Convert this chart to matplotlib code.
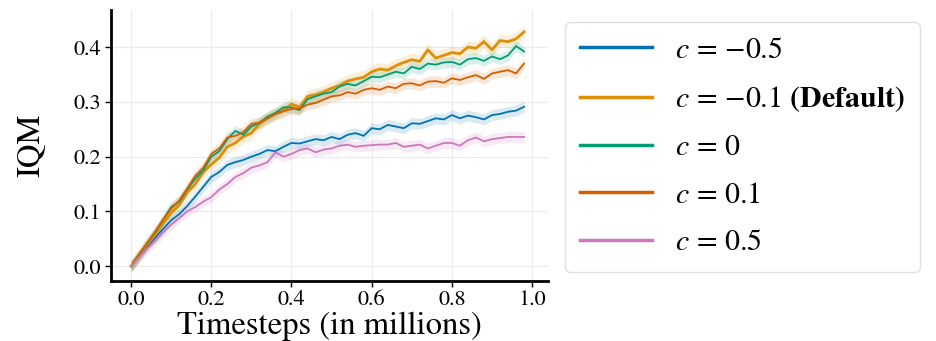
import numpy as np
import matplotlib.pyplot as plt

plt.rcParams['font.family'] = 'STIXGeneral'
plt.rcParams['mathtext.fontset'] = 'stix'

# timesteps (in millions)
steps = np.arange(50) * 0.02

iqm_m05 = [0.0, 0.018, 0.036, 0.052, 0.068, 0.084, 0.095, 0.11, 0.127, 0.145,
           0.163, 0.172, 0.185, 0.19, 0.194, 0.2, 0.205, 0.212, 0.21, 0.218,
           0.225, 0.224, 0.228, 0.232, 0.23, 0.236, 0.232, 0.24, 0.243, 0.238,
           0.252, 0.25, 0.258, 0.255, 0.252, 0.261, 0.26, 0.265, 0.27, 0.268,
           0.276, 0.27, 0.275, 0.272, 0.268, 0.276, 0.278, 0.282, 0.284, 0.291]
iqm_m01 = [0.0, 0.02, 0.04, 0.058, 0.078, 0.097, 0.112, 0.135, 0.15, 0.172,
           0.186, 0.198, 0.218, 0.225, 0.237, 0.243, 0.26, 0.27, 0.278, 0.284,
           0.296, 0.29, 0.31, 0.313, 0.318, 0.325, 0.33, 0.338, 0.342, 0.345,
           0.355, 0.36, 0.358, 0.366, 0.372, 0.377, 0.374, 0.395, 0.38, 0.385,
           0.39, 0.388, 0.4, 0.398, 0.41, 0.395, 0.412, 0.41, 0.415, 0.428]
iqm_0 = [0.0, 0.021, 0.042, 0.062, 0.085, 0.108, 0.118, 0.14, 0.16, 0.175,
         0.2, 0.21, 0.232, 0.247, 0.24, 0.255, 0.262, 0.273, 0.28, 0.29,
         0.29, 0.285, 0.305, 0.31, 0.315, 0.318, 0.328, 0.333, 0.33, 0.338,
         0.346, 0.345, 0.35, 0.355, 0.352, 0.364, 0.36, 0.37, 0.368, 0.372,
         0.373, 0.368, 0.378, 0.38, 0.375, 0.383, 0.378, 0.385, 0.402, 0.392]
iqm_01 = [0.0, 0.021, 0.042, 0.063, 0.085, 0.105, 0.12, 0.142, 0.165, 0.18,
          0.205, 0.215, 0.235, 0.238, 0.245, 0.26, 0.262, 0.27, 0.278, 0.283,
          0.287, 0.288, 0.295, 0.298, 0.304, 0.31, 0.312, 0.318, 0.315, 0.322,
          0.325, 0.322, 0.328, 0.325, 0.333, 0.334, 0.33, 0.337, 0.338, 0.335,
          0.343, 0.34, 0.345, 0.349, 0.342, 0.352, 0.355, 0.358, 0.352, 0.37]
iqm_05 = [0.0, 0.016, 0.032, 0.046, 0.062, 0.076, 0.088, 0.1, 0.108, 0.118,
          0.126, 0.14, 0.15, 0.163, 0.17, 0.18, 0.184, 0.19, 0.208, 0.2,
          0.205, 0.212, 0.215, 0.208, 0.213, 0.215, 0.22, 0.222, 0.218, 0.22,
          0.221, 0.222, 0.222, 0.225, 0.218, 0.22, 0.222, 0.215, 0.22, 0.225,
          0.225, 0.22, 0.23, 0.235, 0.228, 0.232, 0.234, 0.236, 0.236, 0.236]

# half-width of the confidence band for each run
band_m05, band_m01, band_0, band_01, band_05 = 0.010, 0.012, 0.010, 0.010, 0.010

labels = [r'$c\,=\,{-0.5}$', r'$c\,=\,{-0.1}$ $\mathbf{(Default)}$',
          r'$c\,=\,0$', r'$c\,=\,0.1$', r'$c\,=\,0.5$']
colors = ['#0173b2', '#de8f05', '#029e73', '#d55e00', '#cc78bc']

runs = [(iqm_m05, band_m05), (iqm_m01, band_m01), (iqm_0, band_0),
        (iqm_01, band_01), (iqm_05, band_05)]

fig = plt.figure(figsize=(9.37, 3.41), dpi=100)
ax = fig.add_axes([0.1185, 0.176, 0.4665, 0.795])

for (vals, hw), lab, col in zip(runs, labels, colors):
    vals = np.asarray(vals)
    lw = 2.0 if 'Default' in lab else 1.3
    ax.fill_between(steps, vals - hw, vals + hw, color=col, alpha=0.15, lw=0)
    ax.plot(steps, vals, color=col, lw=lw, label=lab)

ax.set_xlim(-0.05, 1.04)
ax.set_ylim(-0.027, 0.468)
ax.set_xticks([0.0, 0.2, 0.4, 0.6, 0.8, 1.0])
ax.set_yticks([0.0, 0.1, 0.2, 0.3, 0.4])
ax.tick_params(labelsize=16, length=4, width=1, pad=3)
ax.grid(True, color='#ebebeb', lw=0.8)
ax.set_axisbelow(True)
for s in ['top', 'right']:
    ax.spines[s].set_visible(False)
for s in ['left', 'bottom']:
    ax.spines[s].set_linewidth(2)

ax.set_xlabel('Timesteps (in millions)', fontsize=23.5, labelpad=1)
ax.set_ylabel('IQM', fontsize=23.5, labelpad=20)

leg = fig.legend(*ax.get_legend_handles_labels(), loc='upper left',
                 bbox_to_anchor=(565 / 937, 1 - 22 / 341), fontsize=21.5,
                 handlelength=2.4, handletextpad=0.8, labelspacing=0.66,
                 borderpad=0.5, borderaxespad=0, frameon=True, fancybox=True,
                 edgecolor='#d9d9d9')
for line in leg.get_lines():
    line.set_linewidth(2.5)

fig.savefig('out.png', dpi=100)
